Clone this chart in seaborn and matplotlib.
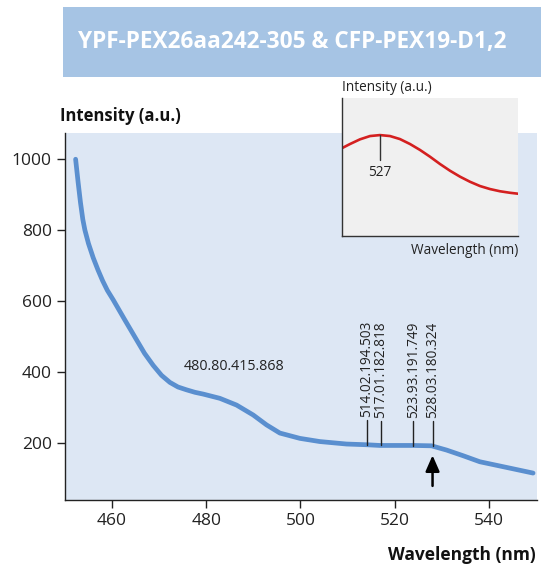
import matplotlib
matplotlib.use("Agg")
import matplotlib.pyplot as plt
import seaborn as sns
import pandas as pd
from matplotlib.patches import Rectangle

# ---------------- data ----------------
wavelength = [452.27, 452.8, 453.3, 453.8, 454.24, 455.0, 456.0, 457.0, 458.0,
              459.0, 460.25, 462.73, 465.21, 466.9, 468.74, 470.5, 472.28, 474.0,
              475.82, 477.6, 479.35, 482.89, 486.43, 489.96, 492.80, 495.62, 499.87,
              504.11, 509.78, 514.02, 516.84, 523.91, 527.81, 531.00, 534.52, 538.06,
              543.73, 549.37]
intensity = [1000, 935, 878, 830, 800, 762, 722, 688, 657,
             630, 603, 546, 490, 452, 418, 390, 370, 357,
             349, 342, 337, 325, 306, 278, 250, 227, 212,
             203, 196, 194, 192, 192, 191, 179, 163, 146,
             130, 114]

peak_x = [514.02, 517.01, 523.93, 528.03]
peak_y = [194.0, 192.0, 191.7, 191.0]
peak_labels = ["514.02.194.503", "517.01.182.818", "523.93.191.749", "528.03.180.324"]
note_text = "480.80.415.868"
note_x, note_y = 486.0, 415
arrow_x = 528.03

inset_x = [522.0, 523.08, 524.38, 525.69, 526.99, 528.29, 529.59, 530.90, 532.20,
           533.50, 534.80, 536.11, 537.41, 538.71, 540.01, 541.32, 542.62, 543.92, 545.0]
inset_y = [0.637, 0.668, 0.702, 0.726, 0.733, 0.726, 0.704, 0.668, 0.625,
           0.576, 0.523, 0.474, 0.431, 0.394, 0.363, 0.341, 0.325, 0.314, 0.307]
inset_peak = 527

title = "YPF-PEX26aa242-305 & CFP-PEX19-D1,2"
xticks = [460, 480, 500, 520, 540]
yticks = [200, 400, 600, 800, 1000]

# ---------------- style ----------------
sns.set_theme(style="white")
plt.rcParams["font.family"] = ["Open Sans", "DejaVu Sans"]

fig = plt.figure(figsize=(5.41, 5.66), dpi=100)

# title box
fig.patches.append(Rectangle((0.1165, 0.864), 0.8835, 0.124, transform=fig.transFigure,
                             facecolor="#A6C4E4", edgecolor="none", zorder=0))
fig.text(0.54, 0.925, title, color="white", fontsize=16.3, fontweight="bold",
         ha="center", va="center")

# main axes
ax = fig.add_axes([0.120, 0.1166, 0.8726, 0.6484])
ax.set_facecolor("#DDE7F4")
df = pd.DataFrame({"wl": wavelength, "I": intensity})
sns.lineplot(data=df, x="wl", y="I", ax=ax, color="#5A8FCF", linewidth=3.4,
             solid_capstyle="round", solid_joinstyle="round")
ax.set_xlim(450, 550.2)
ax.set_ylim(38, 1074)
ax.set_xticks(xticks)
ax.set_yticks(yticks)
ax.tick_params(axis="both", direction="out", length=6, width=1, color="#222222",
               labelsize=12.5, labelcolor="#222222", bottom=True, left=True)
for s in ["top", "right"]:
    ax.spines[s].set_visible(False)
for s in ["left", "bottom"]:
    ax.spines[s].set_color("#222222")
    ax.spines[s].set_linewidth(1)
ax.set_xlabel("")
ax.set_ylabel("")

fig.text(0.111, 0.795, "Intensity (a.u.)", fontsize=12, fontweight="bold",
         ha="left", va="center", color="#111111")
fig.text(0.99, 0.019, "Wavelength (nm)", fontsize=12.5, fontweight="bold",
         ha="right", va="center", color="#111111")

# peak markers
for px, py, lab in zip(peak_x, peak_y, peak_labels):
    ax.plot([px, px], [py, py + 70], color="#222222", lw=1)
    ax.text(px, py + 78, lab, rotation=90, fontsize=9.8, ha="center", va="bottom",
            color="#222222")
ax.text(note_x, note_y, note_text, fontsize=10.3, ha="center", va="center", color="#222222")
ax.annotate("", xy=(arrow_x, 172), xytext=(arrow_x, 70),
            arrowprops=dict(arrowstyle="-|>,head_width=0.35,head_length=0.8",
                            color="black", lw=1.8))

# inset
axi = fig.add_axes([0.6316, 0.583, 0.3264, 0.2433])
axi.set_facecolor("#F0F0F0")
di = pd.DataFrame({"wl": inset_x, "I": inset_y})
sns.lineplot(data=di, x="wl", y="I", ax=axi, color="#D42020", linewidth=1.9,
             solid_joinstyle="round")
axi.set_xlim(522, 545)
axi.set_ylim(0, 1)
axi.set_xticks([])
axi.set_yticks([])
axi.set_xlabel("")
axi.set_ylabel("")
for s in ["top", "right"]:
    axi.spines[s].set_visible(False)
for s in ["left", "bottom"]:
    axi.spines[s].set_color("#333333")
    axi.spines[s].set_linewidth(1)
axi.plot([inset_peak, inset_peak], [0.733, 0.55], color="#333333", lw=1)
axi.text(inset_peak, 0.46, str(inset_peak), fontsize=9.8, ha="center", va="center",
         color="#222222")
fig.text(0.6316, 0.846, "Intensity (a.u.)", fontsize=9.8, ha="left", va="center",
         color="#222222")
fig.text(0.958, 0.558, "Wavelength (nm)", fontsize=9.8, ha="right", va="center",
         color="#222222")

fig.savefig("out.png", dpi=100)
